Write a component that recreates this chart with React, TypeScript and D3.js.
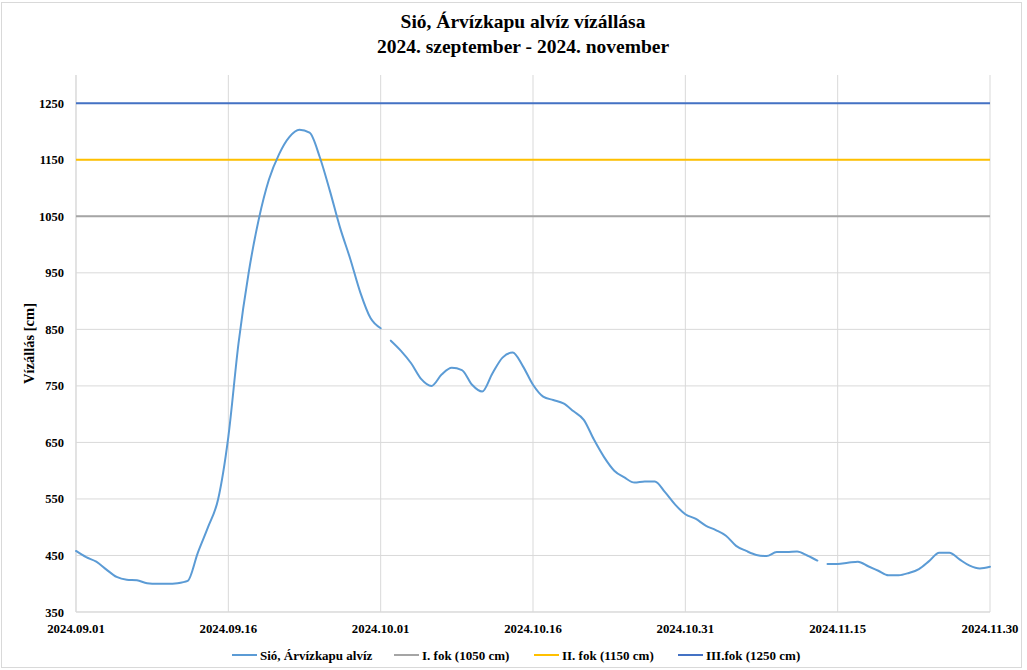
import React from "react";
import * as d3 from "d3";

const startDate = "2024-09-01";
const endDate = "2024-11-30";
const tickLabels = ["2024.09.01", "2024.09.16", "2024.10.01", "2024.10.16", "2024.10.31", "2024.11.15", "2024.11.30"];
const yTicks = [350, 450, 550, 650, 750, 850, 950, 1050, 1150, 1250];

// daily water level (cm), 2024-09-01 .. 2024-11-30
const levels = [
  458, 447, 439, 425, 412, 407, 406, 401, 400, 400,
  401, 405, 455, 500, 550, 660, 825, 950, 1045, 1115,
  1160, 1190, 1203, 1198, 1155, 1095, 1030, 975, 915, 870,
  852, 830, 812, 790, 762, 750, 770, 782, 778, 752,
  740, 772, 800, 809, 785, 752, 731, 725, 719, 705,
  690, 655, 624, 600, 588, 579, 581, 581, 562, 540,
  523, 515, 503, 495, 485, 467, 458, 451, 449, 456,
  456, 457, 450, 441, 435, 435, 437, 439, 431, 423,
  415, 415, 419, 426, 440, 455, 455, 443, 432, 427, 430,
];
// index of day after which the record has a gap
const gapsAfter = [30, 73];

const thresholds = [
  { name: "I. fok (1050 cm)", value: 1050, color: "#A5A5A5" },
  { name: "II. fok (1150 cm)", value: 1150, color: "#FFC000" },
  { name: "III.fok (1250 cm)", value: 1250, color: "#4472C4" },
];
const seriesName = "Sió, Árvízkapu alvíz";
const seriesColor = "#5B9BD5";

const W = 1027, H = 670;
const plot = { left: 76, right: 990, top: 75, bottom: 612 };
const font = "'Liberation Serif', 'Times New Roman', serif";

export default function App() {
  const parse = d3.timeParse("%Y-%m-%d");
  const d0 = parse(startDate)!;
  const d1 = parse(endDate)!;
  const x = d3.scaleTime().domain([d0, d1]).range([plot.left, plot.right]);
  const y = d3.scaleLinear().domain([350, 1300]).range([plot.bottom, plot.top]);
  const days = d3.timeDay.range(d0, d3.timeDay.offset(d1, 1));
  const tickDates = tickLabels.map((_, i) => d3.timeDay.offset(d0, i * 15));

  const segments: { date: Date; v: number }[][] = [];
  let cur: { date: Date; v: number }[] = [];
  levels.forEach((v, i) => {
    cur.push({ date: days[i], v });
    if (gapsAfter.includes(i)) { segments.push(cur); cur = []; }
  });
  if (cur.length) segments.push(cur);

  const line = d3.line<{ date: Date; v: number }>()
    .x(d => x(d.date)).y(d => y(d.v)).curve(d3.curveMonotoneX);

  const legendItems = [
    { name: seriesName, color: seriesColor, x: 232 },
    { name: thresholds[0].name, color: thresholds[0].color, x: 394 },
    { name: thresholds[1].name, color: thresholds[1].color, x: 534 },
    { name: thresholds[2].name, color: thresholds[2].color, x: 678 },
  ];

  return (
    <svg width={W} height={H} style={{ position: "absolute", left: 0, top: 0, background: "#fff" }} fontFamily={font}>
      <rect x={1.5} y={2.5} width={1020} height={665} fill="#fff" stroke="#D9D9D9" />
      <text x={523} y={28} textAnchor="middle" fontSize={19.5} fontWeight="bold">Sió, Árvízkapu alvíz vízállása</text>
      <text x={523} y={53} textAnchor="middle" fontSize={19.5} fontWeight="bold">2024. szeptember - 2024. november</text>

      {yTicks.map(t => (
        <g key={t}>
          <line x1={plot.left} x2={plot.right} y1={y(t)} y2={y(t)} stroke="#D9D9D9" strokeWidth={1} />
          <text x={64} y={y(t) + 4.5} textAnchor="end" fontSize={12.5} fontWeight="bold">{t}</text>
        </g>
      ))}
      {tickDates.map((d, i) => (
        <g key={i}>
          <line x1={x(d)} x2={x(d)} y1={plot.top} y2={plot.bottom} stroke="#D9D9D9" strokeWidth={1} />
          <text x={x(d)} y={633} textAnchor="middle" fontSize={12.8} fontWeight="bold">{tickLabels[i]}</text>
        </g>
      ))}
      <line x1={plot.left} x2={plot.right} y1={plot.bottom} y2={plot.bottom} stroke="#D9D9D9" />
      <line x1={plot.left} x2={plot.left} y1={plot.top} y2={plot.bottom} stroke="#D9D9D9" />

      <text transform={`translate(34,${(plot.top + plot.bottom) / 2}) rotate(-90)`} textAnchor="middle" fontSize={14.5} fontWeight="bold">Vízállás [cm]</text>

      {thresholds.map(t => (
        <line key={t.name} x1={plot.left} x2={plot.right} y1={y(t.value)} y2={y(t.value)} stroke={t.color} strokeWidth={2} />
      ))}
      {segments.map((s, i) => (
        <path key={i} d={line(s) || ""} fill="none" stroke={seriesColor} strokeWidth={2} strokeLinejoin="round" strokeLinecap="round" />
      ))}

      {legendItems.map(l => (
        <g key={l.name}>
          <line x1={l.x} x2={l.x + 25} y1={655} y2={655} stroke={l.color} strokeWidth={2} />
          <text x={l.x + 28} y={659.5} fontSize={13} fontWeight="bold">{l.name}</text>
        </g>
      ))}
    </svg>
  );
}
